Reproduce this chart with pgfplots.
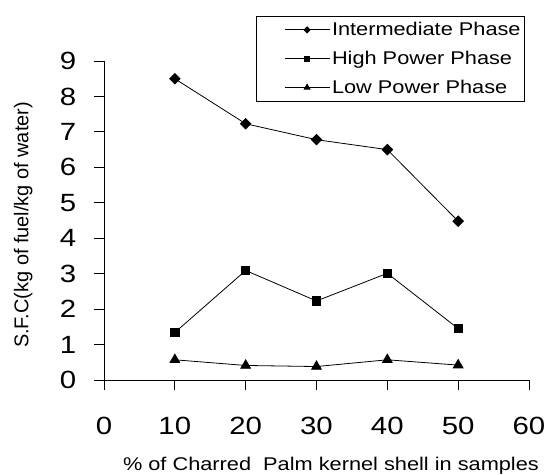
\documentclass[border=0pt]{standalone}
\usepackage{fontspec}
\setmainfont{Liberation Sans}[FakeStretch=1.18]
\newfontfamily\plainsans{Liberation Sans}
\usepackage{pgfplots}
\pgfplotsset{compat=1.18}

\begin{document}
\begin{tikzpicture}
\begin{axis}[
  scale only axis, width=425bp, height=319bp,
  xmin=0, xmax=60, ymin=0, ymax=9,
  axis lines=left, axis line style={-, line width=0.8bp},
  xtick={0,10,...,60}, ytick={0,1,...,9},
  tick align=outside, major tick length=10bp,
  tick style={black, line width=0.8bp},
  /pgf/number format/assume math mode=true,
  ticklabel style={font=\fontsize{25}{30}\selectfont},
  xticklabel style={anchor=center, yshift=-36bp},
  yticklabel style={anchor=center, xshift=-26bp},
  xlabel={\%\ of Charred\ \ Palm kernel shell in samples},
  ylabel={S.F.C(kg of fuel/kg of water)},
  xlabel style={font=\fontsize{18.5}{22}\selectfont,
    at={(axis description cs:0.534,-0.27)}, anchor=center},
  ylabel style={font=\plainsans\fontsize{20}{24}\selectfont,
    at={(axis description cs:-0.19,0.486)}, anchor=center, rotate=0},
  legend style={at={(axis description cs:0.9906,1.141)}, anchor=north east,
    draw=black, line width=0.8bp, font=\fontsize{18.5}{22}\selectfont,
    inner xsep=2bp, inner ysep=4bp, row sep=10bp},
  legend cell align=left,
  legend image code/.code={
    \path (-26bp,0bp);
    \draw[mark repeat=2, mark phase=2, every mark/.append style={scale=0.6}]
      plot coordinates {(0bp,0bp) (22.5bp,0bp) (45bp,0bp)};
  },
  every axis plot/.append style={black, line width=0.8bp},
]
\addplot[mark=square*, mark size=3.7bp, mark options={rotate=45}] coordinates {
  (10,8.50) (20,7.23) (30,6.78) (40,6.50) (50,4.48)};
\addlegendentry{Intermediate Phase}
\addplot[mark=square*, mark size=4.2bp] coordinates {
  (10,1.34) (20,3.09) (30,2.23) (40,3.01) (50,1.45)};
\addlegendentry{High Power Phase}
\addplot[mark=triangle*, mark size=5.6bp] coordinates {
  (10,0.57) (20,0.41) (30,0.38) (40,0.57) (50,0.42)};
\addlegendentry{Low Power Phase}
\end{axis}
\pgfresetboundingbox
\useasboundingbox (-104bp,-95bp) rectangle (454bp,380bp);
\end{tikzpicture}
\end{document}
